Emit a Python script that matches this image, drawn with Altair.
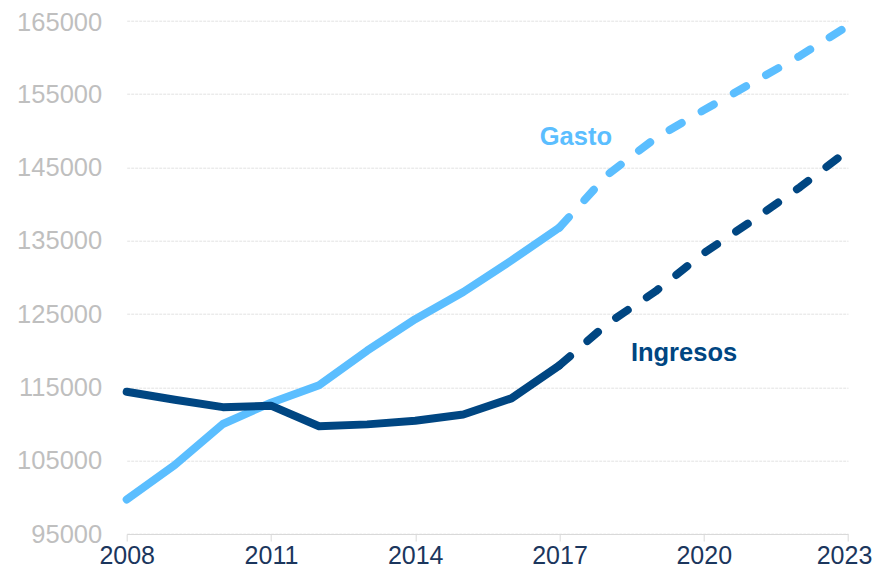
import altair as alt
import pandas as pd

years = list(range(2008, 2024))
gasto = [99700, 104400, 110000, 112900, 115300, 120000, 124300, 128000,
         132300, 136800, 144000, 149000, 152800, 156500, 160200, 164300]
ingresos = [114400, 113300, 112300, 112500, 109700, 109950, 110450, 111300,
            113500, 118000, 123700, 128100, 133300, 137700, 142300, 147300]
last_actual = 2017

series_names = ["Gasto", "Ingresos"]
series_colors = ["#5BBEFF", "#004682"]
label_year = [2017.34, 2019.59]
label_value = [149200, 119700]

x_ticks = [2008, 2011, 2014, 2017, 2020, 2023]
y_ticks = [95000, 105000, 115000, 125000, 135000, 145000, 155000, 165000]

rows = []
for name, vals in zip(series_names, [gasto, ingresos]):
    for y, v in zip(years, vals):
        rows.append({"year": y, "value": v, "serie": name})
df = pd.DataFrame(rows)
solid_df = df[df.year <= last_actual]
dash_df = df[df.year >= last_actual]
labels_df = pd.DataFrame({"year": label_year, "value": label_value, "serie": series_names})

FONT = "Liberation Sans"
xs = alt.Scale(domain=[2008, 2023], nice=False, zero=False)
ys = alt.Scale(domain=[95000, 165000], nice=False, zero=False)
cs = alt.Scale(domain=series_names, range=series_colors)

x_enc = alt.X("year:Q", scale=xs, axis=alt.Axis(
    values=x_ticks, format="d", title=None, grid=False,
    domainColor="#D9D9D9", tickColor="#D9D9D9", tickSize=7,
    labelColor="#1B365D", labelFontSize=25, labelFont=FONT, labelPadding=2,
    labelFlush=False,
    labelOffset={"condition": {"test": "datum.value == 2023", "value": -4}, "value": 0}))
y_enc = alt.Y("value:Q", scale=ys, axis=alt.Axis(
    values=y_ticks, format="d", title=None, domain=False, ticks=False,
    grid=True, gridColor="#E3E3E3", gridDash=[3, 1],
    labelColor="#BFBFBF", labelFontSize=25.5, labelFont=FONT, labelPadding=25,
    labelOffset={"condition": {"test": "datum.value == 165000", "value": 1.5}, "value": 0}))
c_enc = alt.Color("serie:N", scale=cs, legend=None)

solid = alt.Chart(solid_df).mark_line(strokeWidth=8, strokeCap="round", strokeJoin="round").encode(
    x=x_enc, y=y_enc, color=c_enc, detail="serie:N")
dashed = alt.Chart(dash_df).mark_line(strokeWidth=8, strokeCap="round", strokeJoin="round",
                                      strokeDash=[14, 23]).encode(
    x="year:Q", y="value:Q", color=c_enc, detail="serie:N")
texts = alt.Chart(labels_df).mark_text(font=FONT, fontSize=25.5, fontWeight="bold",
                                       align="center", baseline="middle").encode(
    x="year:Q", y="value:Q", color=c_enc, text="serie:N")

chart = alt.layer(solid, dashed, texts).properties(
    width=721.3, height=513.3,
    background="white",
    autosize=alt.AutoSizeParams(type="none"),
    padding={"left": 118.7, "top": 12.7, "right": 24, "bottom": 34},
).configure_view(strokeWidth=0)

chart.save("out.html", embed_options={"renderer": "svg", "actions": False})
